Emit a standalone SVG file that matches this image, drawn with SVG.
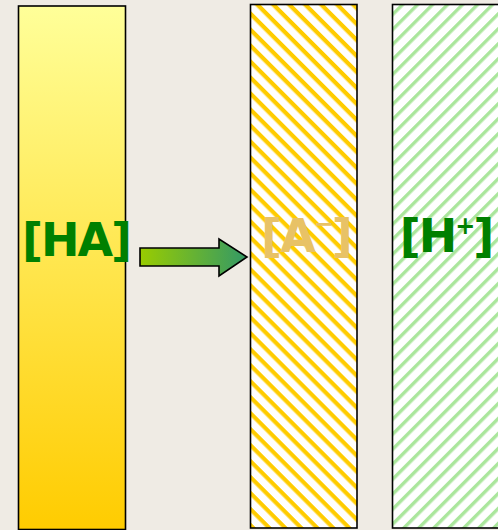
<svg xmlns="http://www.w3.org/2000/svg" width="498" height="530" viewBox="0 0 498 530">
<defs>
<linearGradient id="gHA" x1="0" y1="0" x2="0" y2="1">
<stop offset="0" stop-color="#ffff99"/>
<stop offset="1" stop-color="#ffcc00"/>
</linearGradient>
<linearGradient id="gArrow" x1="0" y1="0" x2="1" y2="0">
<stop offset="0" stop-color="#99cc00"/>
<stop offset="1" stop-color="#339966"/>
</linearGradient>
<pattern id="hatchY" patternUnits="userSpaceOnUse" width="11.3" height="11.3" patternTransform="rotate(45)">
<rect width="11.3" height="11.3" fill="#ffffff"/>
<rect y="0" width="11.3" height="4.2" fill="#ffcc00"/>
</pattern>
<pattern id="hatchG" patternUnits="userSpaceOnUse" width="10.6" height="10.6" patternTransform="rotate(-45)">
<rect width="10.6" height="10.6" fill="#ffffff"/>
<rect y="0" width="10.6" height="3.4" fill="#aae69c"/>
</pattern>
</defs>
<style>
.box{stroke:#000;stroke-width:1.6}
.lbl{font-family:"DejaVu Sans",Verdana,sans-serif;font-weight:bold;font-size:46px;text-anchor:middle;letter-spacing:-2px}
.sup{font-size:24px}
</style>
<rect width="498" height="530" fill="#efebe4"/>
<g id="HA">
<rect class="box" x="18.5" y="6" width="107" height="523.5" fill="url(#gHA)"/>
<text class="lbl" x="76" y="256" fill="#008000">[HA]</text>
</g>
<g id="A">
<rect class="box" x="250.5" y="4.5" width="106.5" height="523.5" fill="url(#hatchY)"/>
<text class="lbl" x="306" y="252" fill="#e8c266">[A<tspan class="sup" dy="-20">−</tspan><tspan dy="20">]</tspan></text>
</g>
<g id="H">
<rect class="box" x="392.5" y="4.5" width="110" height="523.5" fill="url(#hatchG)"/>
<text class="lbl" x="446" y="252" fill="#008000">[H<tspan class="sup" dy="-18">+</tspan><tspan dy="18">]</tspan></text>
</g>
<g id="connectors">
<path d="M140,248 H219 V239 L247,257 L219,276 V266 H140 Z" fill="url(#gArrow)" stroke="#000" stroke-width="1.6" stroke-linejoin="miter"/>
</g>
</svg>
